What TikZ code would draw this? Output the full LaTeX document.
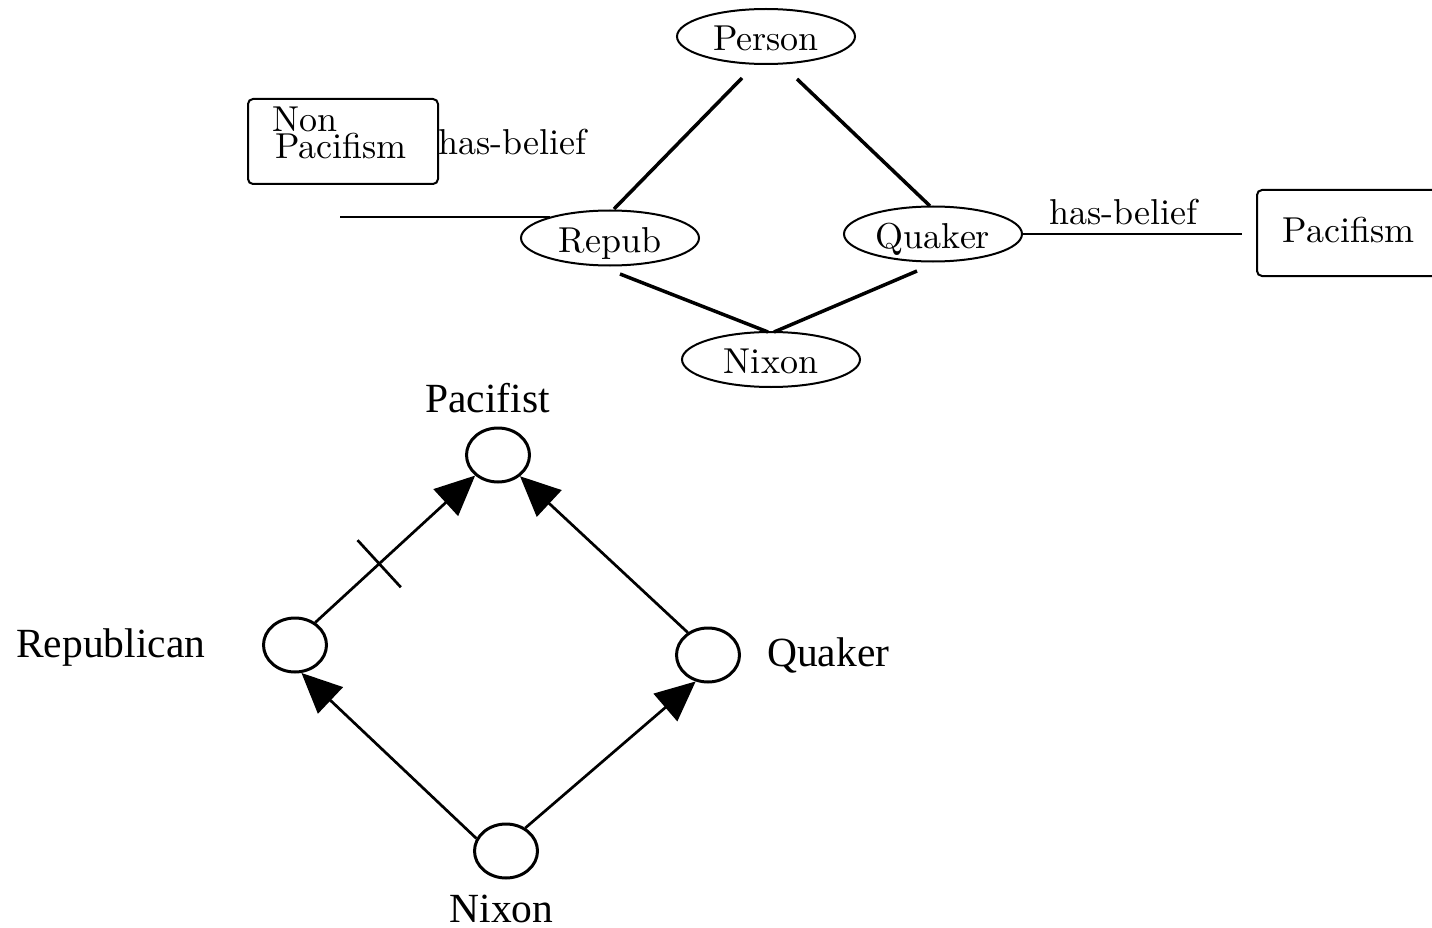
\documentclass[tikz,border=0pt]{standalone}
\usepackage{fontspec}
\newfontfamily\cmfont{lmroman10-regular.otf}
\newfontfamily\timesfont{Liberation Serif}
\usetikzlibrary{shapes.geometric,arrows.meta,calc}

\begin{document}
\begin{tikzpicture}[x=1pt,y=-1pt,
  cmtext/.style={font=\cmfont\fontsize{36}{40}\selectfont, inner sep=0pt},
  concept/.style={ellipse, draw, line width=2pt, minimum width=178pt,
    minimum height=55pt, inner sep=0pt, text height=28pt, text depth=0pt,
    font=\cmfont\fontsize{36}{40}\selectfont},
  beliefbox/.style={draw, line width=2pt, rounded corners=5pt, inner sep=0pt,
    font=\cmfont\fontsize{36}{40}\selectfont},
  isa/.style={line width=3.5pt},
  rel/.style={line width=2pt},
  classnode/.style={ellipse, draw, line width=3pt, minimum width=63pt,
    minimum height=54pt, inner sep=0pt},
  inherit/.style={line width=2.7pt, -{Triangle[length=40pt,width=36pt]}},
  tmtext/.style={font=\timesfont\fontsize{41.5}{46}\selectfont, inner sep=0pt},
]
\useasboundingbox (0,0) rectangle (1432,928);
\clip (0,0) rectangle (1432,928);

% ---- semantic network ----
\node[concept] (person) at (766,36.5) {Person};
\node[concept] (repub)  at (610,238)  {Repub};
\node[concept] (quaker) at (933,234)  {Quaker};
\node[concept] (nixon)  at (771,359.5) {Nixon};

\draw[isa] ($(person)+(-24,41.5)$) -- ($(repub)+(4,-29)$);
\draw[isa] ($(person)+(31,42.5)$)  -- ($(quaker)+(-3,-28)$);
\draw[isa] ($(repub)+(10,36)$)     -- ($(nixon)+(-3,-27.5)$);
\draw[isa] ($(quaker)+(-16,37)$)   -- ($(nixon)+(3,-27.5)$);

% beliefs
\node[beliefbox, minimum width=190pt, minimum height=85pt] (nonpac) at (343,141.5) {};
\node[cmtext, anchor=base west] (nonpac-a) at (272,132) {Non};
\node[cmtext, anchor=base west] (nonpac-b) at (275,159) {Pacifism};
\node[cmtext, anchor=base west] (belief-l) at (438,155) {has-belief};
\coordinate (nonpac-end) at (340,217);
\draw[rel] (nonpac-end) -- ($(repub)+(-60,-21)$);

\node[beliefbox, minimum width=183pt, minimum height=86pt,
  text height=20pt, text depth=0pt] (pacifism) at (1348.5,233) {Pacifism};
\node[cmtext, anchor=base west] (belief-r) at (1049,225) {has-belief};
\coordinate (pac-end) at (1242,234);
\draw[rel] (quaker.east) -- (pac-end);

% ---- inheritance network ----
\node[classnode] (pac) at (498,455) {};
\node[classnode] (rep) at (295,645) {};
\node[classnode] (qua) at (708,655) {};
\node[classnode] (nix) at (506,851) {};

\node[tmtext, anchor=base] (pac-lbl) at (487.5,412) {Pacifist};
\node[tmtext, anchor=base west] (rep-lbl) at (16,657) {Republican};
\node[tmtext, anchor=base west] (qua-lbl) at (767,666) {Quaker};
\node[tmtext, anchor=base] (nix-lbl) at (501.5,922) {Nixon};

\draw[inherit] (rep.48) -- (pac.222);
\draw[inherit] (qua.132) -- (pac.316);
\draw[inherit] (nix.157) -- (rep.283);
\draw[inherit] (nix.50) -- (qua.245);

% negated link mark
\coordinate (tick) at ($(rep.48)!0.40!(pac.222)$);
\draw[line width=2.7pt] ($(tick)!32pt!90:(pac.222)$) -- ($(tick)!32pt!-90:(pac.222)$);
\end{tikzpicture}
\end{document}
